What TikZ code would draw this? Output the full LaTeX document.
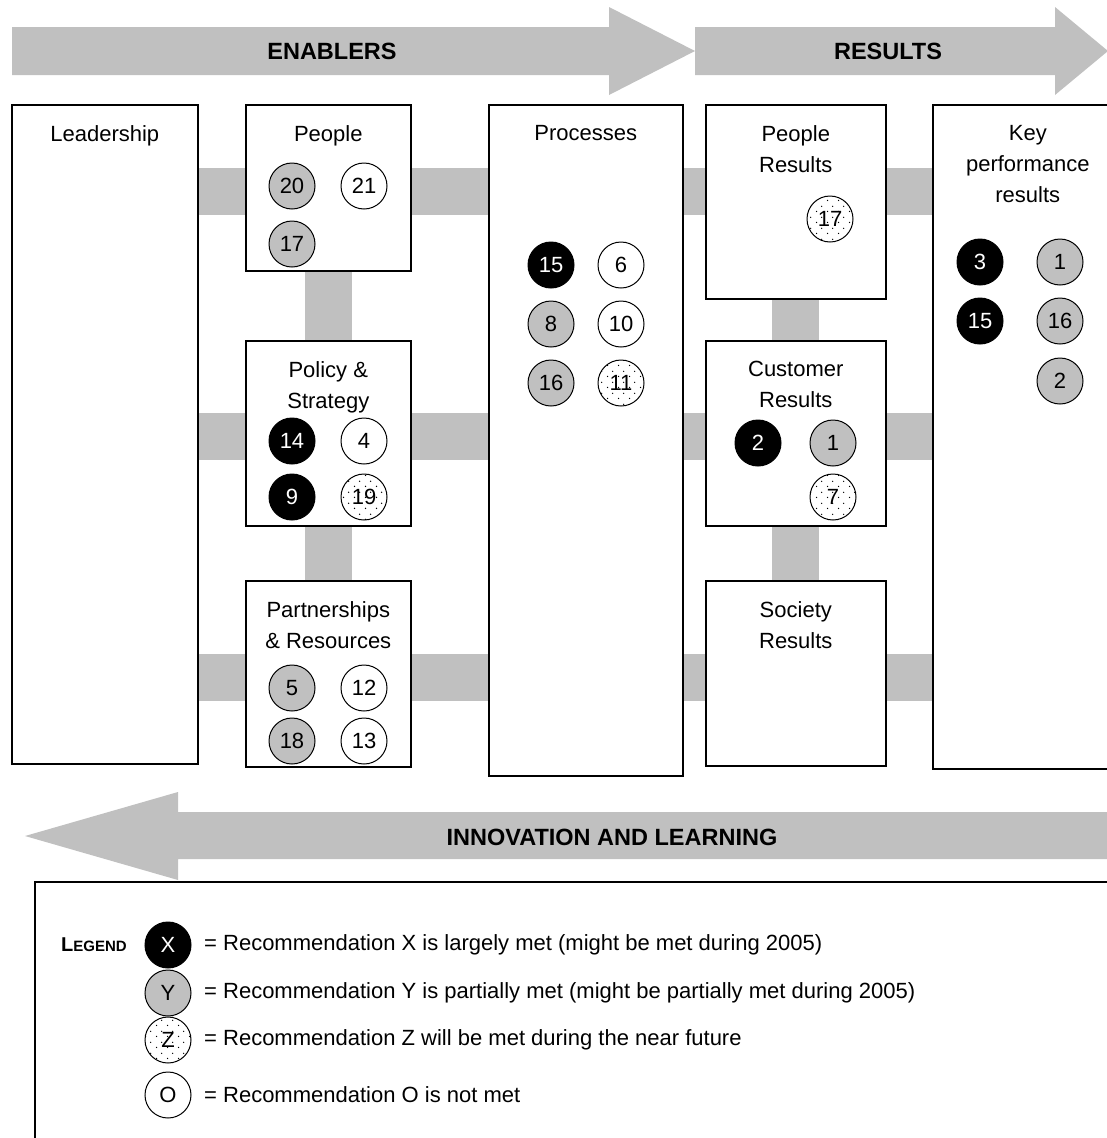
\documentclass[tikz,border=0pt]{standalone}
\usepackage{fontspec}
\setmainfont{Liberation Sans}
\usetikzlibrary{patterns,backgrounds}

\definecolor{bargray}{RGB}{192,192,192}
\pgfdeclarepatternformonly{sparsedots}{\pgfpointorigin}{\pgfpoint{11pt}{11pt}}{\pgfpoint{11pt}{11pt}}{%
  \pgfpathcircle{\pgfpoint{2.75pt}{2.75pt}}{0.8pt}%
  \pgfpathcircle{\pgfpoint{8.25pt}{8.25pt}}{0.8pt}%
  \pgfusepath{fill}}

\tikzset{
  box/.style={draw, line width=1.6pt, fill=white, inner sep=0pt, anchor=north west},
  boxtitle/.style={anchor=north, align=center, inner sep=0pt, yshift=-21pt, font=\fontsize{22}{31}\selectfont},
  rec/.style={circle, draw, line width=1pt, minimum size=46pt, inner sep=0pt, font=\fontsize{22}{22}\selectfont},
  met/.style={rec, fill=black, text=white},
  part/.style={rec, fill=bargray},
  soon/.style={rec, pattern=sparsedots},
  notmet/.style={rec, fill=white},
  link/.style={draw=bargray, line width=47pt},
  band/.style={fill=bargray},
  bandlabel/.style={inner sep=0pt, font=\fontsize{23.5}{23.5}\selectfont\bfseries},
  legtext/.style={anchor=west, inner sep=0pt, font=\fontsize{22}{22}\selectfont},
}

\begin{document}
\begin{tikzpicture}[x=1pt, y=-1pt]
    \path[use as bounding box, clip] (0,0) rectangle (1107,1138);

    % arrows
    \fill[band] (12,27) -- (609,27) -- (609,7) -- (695,51) -- (609,95) -- (609,75) -- (12,75) -- cycle;
    \fill[band] (695,27) -- (1055,27) -- (1055,7) -- (1108,51) -- (1055,95) -- (1055,75) -- (695,75) -- cycle;
    \fill[band] (1110,812) -- (178,812) -- (178,792) -- (25,836) -- (178,880) -- (178,859) -- (1110,859) -- cycle;
    \node[bandlabel] (enab) at (332,51) {ENABLERS};
    \node[bandlabel] (res) at (888,51) {RESULTS};
    \node[bandlabel] (innov) at (612,837) {INNOVATION AND LEARNING};

    % boxes
    \node[box, minimum width=186pt, minimum height=659pt] (lead) at (11,104) {};
    \node[box, minimum width=165pt, minimum height=166pt] (ppl) at (245,104) {};
    \node[box, minimum width=165pt, minimum height=185pt] (pol) at (245,340) {};
    \node[box, minimum width=165pt, minimum height=186pt] (part) at (245,580) {};
    \node[box, minimum width=194pt, minimum height=671pt] (proc) at (488,104) {};
    \node[box, minimum width=180pt, minimum height=194pt] (pres) at (705,104) {};
    \node[box, minimum width=180pt, minimum height=185pt] (cres) at (705,340) {};
    \node[box, minimum width=180pt, minimum height=185pt] (sres) at (705,580) {};
    \node[box, minimum width=190pt, minimum height=664pt] (kpr) at (932,104) {};

    \node[boxtitle] at (lead.north) {Leadership};
    \node[boxtitle] at (ppl.north) {People};
    \node[boxtitle] at (pol.north) {Policy \&\\Strategy};
    \node[boxtitle] at (part.north) {Partnerships\\\& Resources};
    \node[boxtitle] at (proc.north) {Processes};
    \node[boxtitle] at (pres.north) {People\\Results};
    \node[boxtitle] at (cres.north) {Customer\\Results};
    \node[boxtitle] at (sres.north) {Society\\Results};
    \node[boxtitle] at (kpr.north) {Key\\performance\\results};

    % links
    \coordinate (row1) at (0,191.5);
    \coordinate (row2) at (0,436);
    \coordinate (row3) at (0,677.5);
    \begin{scope}[on background layer]
      \draw[link] (lead.east |- row1) -- (kpr.west |- row1);
      \draw[link] (lead.east |- row2) -- (kpr.west |- row2);
      \draw[link] (lead.east |- row3) -- (kpr.west |- row3);
      \draw[link] (ppl) -- (pol);
      \draw[link] (pol) -- (part);
      \draw[link] (pres) -- (cres);
      \draw[link] (cres) -- (sres);
    \end{scope}

    % recommendations
    \node[part]   (p20) at (292,186) {20};
    \node[notmet] (p21) at (364,186) {21};
    \node[part]   (p17) at (292,244) {17};
    \node[met]    (s14) at (292,441) {14};
    \node[notmet] (s4)  at (364,441) {4};
    \node[met]    (s9)  at (292,497) {9};
    \node[soon]   (s19) at (364,497) {19};
    \node[part]   (r5)  at (292,688) {5};
    \node[notmet] (r12) at (364,688) {12};
    \node[part]   (r18) at (292,741) {18};
    \node[notmet] (r13) at (364,741) {13};
    \node[met]    (c15) at (551,265) {15};
    \node[notmet] (c6)  at (621,265) {6};
    \node[part]   (c8)  at (551,324) {8};
    \node[notmet] (c10) at (621,324) {10};
    \node[part]   (c16) at (551,383) {16};
    \node[soon]   (c11) at (621,383) {11};
    \node[soon]   (q17) at (830,219) {17};
    \node[met]    (u2)  at (758,443) {2};
    \node[part]   (u1)  at (833,443) {1};
    \node[soon]   (u7)  at (833,497) {7};
    \node[met]    (k3)  at (980,262) {3};
    \node[part]   (k1)  at (1060,262) {1};
    \node[met]    (k15) at (980,321) {15};
    \node[part]   (k16) at (1060,321) {16};
    \node[part]   (k2)  at (1060,381) {2};

    % legend
    \draw[line width=1.6pt] (35,1150) -- (35,882) -- (1120,882);
    \node[inner sep=0pt, font=\fontsize{20}{20}\selectfont\bfseries] (leg) at (94,945) {L\fontsize{15}{15}\selectfont EGEND};
    \node[met]    (lx) at (168,945) {X};
    \node[part]   (ly) at (168,993) {Y};
    \node[soon]   (lz) at (168,1040) {Z};
    \node[notmet] (lo) at (168,1095) {O};
    \node[legtext] at (204,945) {= Recommendation X is largely met (might be met during 2005)};
    \node[legtext] at (204,993) {= Recommendation Y is partially met (might be partially met during 2005)};
    \node[legtext] at (204,1040) {= Recommendation Z will be met during the near future};
    \node[legtext] at (204,1095) {= Recommendation O is not met};
\end{tikzpicture}
\end{document}
